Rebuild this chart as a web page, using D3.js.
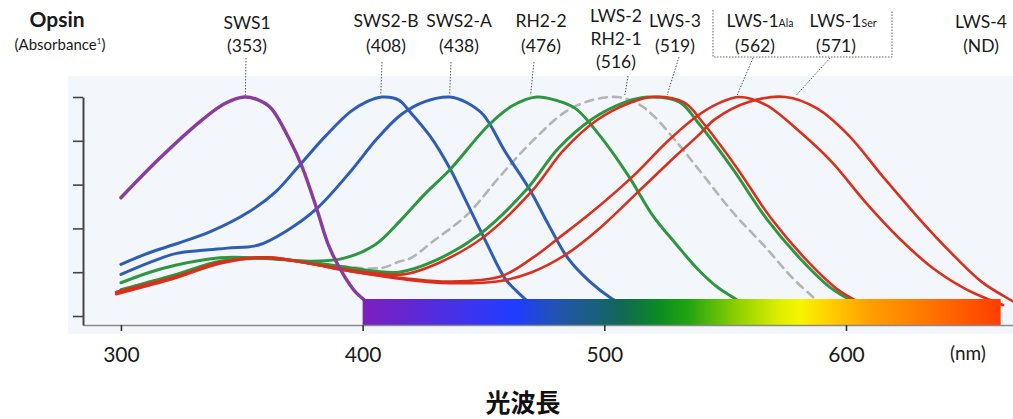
<!DOCTYPE html>
<html>
<head>
<meta charset="utf-8">
<script src="https://cdn.jsdelivr.net/npm/d3@7"></script>
<style>
  body { margin: 0; background: #fff; }
  svg { display: block; font-family: Lato, "Noto Sans", sans-serif; }
</style>
</head>
<body>
<svg id="chart"></svg>
<script>
// absorbance curves, [wavelength nm, relative absorbance]
const sws1 = [[300,0.54],[316,0.72],[333,0.89],[343,0.97],[351,1.0],[356,0.99],[362,0.95],[370,0.80],[375,0.68],[381,0.49],[386,0.32],[392,0.19],[397,0.11],[400,0.08],[403,0.05]];
const sws2b = [[300,0.236],[312,0.29],[323,0.33],[337,0.385],[353,0.476],[364,0.567],[374,0.69],[385,0.826],[395,0.933],[402,0.98],[408,1.0],[415,0.986],[419,0.94],[428,0.82],[436,0.676],[443,0.52],[451,0.34],[459,0.17],[465,0.10],[469,0.06]];
const sws2a = [[300,0.19],[312,0.245],[323,0.286],[334,0.30],[344,0.31],[357,0.324],[368,0.385],[381,0.49],[395,0.66],[406,0.81],[416,0.92],[426,0.98],[436,1.0],[443,0.975],[450,0.918],[459,0.75],[469,0.58],[477,0.415],[485,0.263],[494,0.157],[503,0.08],[508,0.05]];
const rh22 = [[300,0.152],[312,0.2],[323,0.233],[341,0.266],[360,0.263],[378,0.25],[392,0.263],[405,0.324],[416,0.44],[426,0.56],[436,0.667],[452,0.87],[462,0.96],[472,1.0],[480,0.985],[488,0.948],[498,0.826],[510,0.64],[520,0.46],[530,0.324],[539,0.21],[547,0.13],[554,0.08],[558,0.05]];
const lws2 = [[300,0.12],[323,0.19],[341,0.245],[360,0.262],[378,0.245],[392,0.225],[408,0.22],[415,0.248],[420,0.265],[429,0.34],[443,0.46],[457,0.64],[470,0.796],[484,0.933],[495,0.986],[505,1.0],[513,0.975],[520,0.918],[531,0.78],[539,0.67],[553,0.476],[567,0.31],[578,0.172],[586,0.09],[590,0.05]];
const rh21 = [[300,0.12],[323,0.19],[341,0.25],[360,0.265],[378,0.245],[392,0.225],[405,0.205],[415,0.20],[429,0.248],[448,0.37],[468,0.58],[481,0.766],[495,0.90],[509,0.978],[518,1.0],[531,0.978],[539,0.88],[553,0.674],[567,0.446],[581,0.263],[594,0.126],[604,0.06]];
const lws3 = [[298,0.11],[323,0.18],[341,0.245],[360,0.268],[378,0.24],[392,0.215],[405,0.195],[417,0.19],[431,0.24],[450,0.36],[470,0.57],[483,0.755],[497,0.895],[511,0.975],[520,1.0],[533,0.975],[541,0.88],[555,0.674],[569,0.446],[583,0.263],[596,0.126],[606,0.06]];
const lws1Ala = [[298,0.10],[323,0.175],[341,0.24],[360,0.268],[378,0.24],[392,0.21],[406,0.187],[419,0.17],[436,0.157],[457,0.18],[470,0.263],[481,0.355],[495,0.476],[512,0.64],[526,0.796],[538,0.91],[547,0.97],[556,1.0],[567,0.963],[581,0.84],[594,0.705],[608,0.52],[622,0.355],[636,0.218],[649,0.126],[658,0.08],[665,0.05]];
const lws1Ser = [[300,0.115],[323,0.18],[341,0.245],[360,0.265],[378,0.24],[392,0.21],[406,0.185],[419,0.165],[436,0.15],[457,0.16],[470,0.20],[484,0.28],[498,0.40],[514,0.567],[530,0.735],[539,0.826],[546,0.90],[560,0.978],[575,1.0],[588,0.948],[601,0.826],[615,0.64],[629,0.46],[643,0.294],[656,0.157],[667,0.08],[672,0.05]];

const xTicks = [300, 400, 500, 600];
const yTicks = [0, 0.2, 0.4, 0.6, 0.8, 1];

// visible light bar: [nm, colour]
const spectrum = [[400,"#7d1fbf"],[425,"#5a2ad8"],[445,"#3a34f0"],[463,"#1f3dff"],[480,"#2253b0"],[495,"#1a5f80"],[508,"#106a50"],[522,"#0b8a22"],[535,"#22a510"],[555,"#8fd000"],[572,"#dcee00"],[581,"#f6f500"],[593,"#ffd000"],[610,"#ff9f00"],[635,"#ff7300"],[664,"#ff3d00"]];

const width = 1013, height = 419;

const svg = d3.select("#chart").attr("width", width).attr("height", height);

let x = d3.scaleLinear().domain([284.3, 669.1]).range([83, 1013]);
let y = d3.scaleLinear().domain([-0.041, 1]).range([325, 97]);

// light panel behind the plot
svg.append("rect")
  .attr("x", 68).attr("y", 76).attr("width", width - 68).attr("height", 258)
  .attr("fill", "#f3f6fa");

const series = [
  {data: lws2, color: "#b4b4b4", dash: "8,6", w: 2.6},
  {data: sws2b, color: "#2f5db5", w: 3},
  {data: sws2a, color: "#2f5db5", w: 3},
  {data: rh22, color: "#2e9640", w: 3},
  {data: rh21, color: "#2e9640", w: 3},
  {data: lws3, color: "#d8301d", w: 2.6},
  {data: lws1Ala, color: "#d8301d", w: 2.6},
  {data: lws1Ser, color: "#d8301d", w: 2.6},
  {data: sws1, color: "#8a3c9c", w: 3.4}
];

let line = d3.line()
  .x(d => x(d[0]))
  .y(d => y(d[1]))
  .curve(d3.curveCatmullRom.alpha(0.5));

svg.append("g")
  .attr("fill", "none")
  .attr("stroke-linecap", "round")
  .selectAll("path")
  .data(series)
  .join("path")
    .attr("d", d => line(d.data))
    .attr("stroke", d => d.color)
    .attr("stroke-width", d => d.w)
    .attr("stroke-dasharray", d => d.dash || null);

// spectrum bar
const grad = svg.append("defs").append("linearGradient")
  .attr("id", "spec")
  .attr("gradientUnits", "userSpaceOnUse")
  .attr("x1", x(400)).attr("x2", x(664)).attr("y1", 0).attr("y2", 0);
grad.selectAll("stop")
  .data(spectrum)
  .join("stop")
    .attr("offset", d => (d[0] - 400) / (664 - 400))
    .attr("stop-color", d => d[1]);

svg.append("rect")
  .attr("x", x(400)).attr("y", 299)
  .attr("width", x(664) - x(400)).attr("height", y(-0.041) - 299)
  .attr("fill", "url(#spec)");

// axes
let xAxis = g => g
  .attr("transform", `translate(0,${y(-0.041)})`)
  .call(d3.axisBottom(x).tickValues(xTicks).tickSize(6).tickSizeOuter(0).tickPadding(16))
  .call(g => g.select(".domain").attr("stroke", "#8a8a8a").attr("stroke-width", 1.6))
  .call(g => g.selectAll(".tick line").attr("stroke", "#333").attr("stroke-width", 1.6))
  .call(g => g.selectAll(".tick text")
    .attr("fill", "#1a1a1a")
    .attr("font-size", 21)
    .attr("font-family", "Lato, 'Noto Sans', sans-serif"));

let yAxis = g => g
  .attr("transform", `translate(${x(284.3)},0)`)
  .call(d3.axisLeft(y).tickValues(yTicks).tickSize(10).tickSizeOuter(0).tickFormat(""))
  .call(g => g.select(".domain").attr("stroke", "#444").attr("stroke-width", 2))
  .call(g => g.selectAll(".tick line").attr("stroke", "#444").attr("stroke-width", 1.6));

svg.append("g").call(xAxis);
svg.append("g").call(yAxis);

svg.append("text")
  .attr("x", 968).attr("y", 360)
  .attr("text-anchor", "middle")
  .attr("font-size", 19)
  .attr("fill", "#1a1a1a")
  .text("(nm)");

svg.append("text")
  .attr("x", 523).attr("y", 412)
  .attr("text-anchor", "middle")
  .attr("font-size", 25)
  .attr("font-weight", "bold")
  .attr("font-family", "'Noto Sans CJK JP', sans-serif")
  .attr("fill", "#111")
  .text("光波長");

// y title
svg.append("text")
  .attr("x", 57).attr("y", 27)
  .attr("text-anchor", "middle")
  .attr("font-size", 21)
  .attr("font-weight", "bold")
  .attr("fill", "#1a1a1a")
  .text("Opsin");

const absT = svg.append("text")
  .attr("x", 60).attr("y", 50)
  .attr("text-anchor", "middle")
  .attr("font-size", 15)
  .attr("fill", "#1a1a1a");
absT.append("tspan").text("(Absorbance");
absT.append("tspan").attr("font-size", 8).attr("dy", -6).text("1");
absT.append("tspan").attr("dy", 6).text(")");

// opsin labels with leader lines
const labels = [
  {lines: [["SWS1"], ["(353)"]], cx: [247, 247], base: [29, 52], from: [246, 58], tip: 351.5},
  {lines: [["SWS2-B"], ["(408)"]], cx: [386, 386], base: [27, 52], from: [382, 62], tip: 407.5},
  {lines: [["SWS2-A"], ["(438)"]], cx: [459, 459], base: [27, 52], from: [451, 62], tip: 436},
  {lines: [["RH2-2"], ["(476)"]], cx: [541, 541], base: [27, 52], from: [534, 62], tip: 469.5},
  {lines: [["LWS-2"], ["RH2-1"], ["(516)"]], cx: [616, 616, 616], base: [22, 45, 68], from: [628, 76], tip: 508.5},
  {lines: [["LWS-3"], ["(519)"]], cx: [675, 675], base: [27, 52], from: [679, 57], tip: 526},
  {lines: [["LWS-1", "Ala"], ["(562)"]], cx: [760, 755], base: [27, 52], from: [753, 58], tip: 555},
  {lines: [["LWS-1", "Ser"], ["(571)"]], cx: [843, 836], base: [27, 52], from: [830, 58], tip: 579.5},
  {lines: [["LWS-4"], ["(ND)"]], cx: [981, 981], base: [28, 52]}
];

const lab = svg.append("g")
  .attr("font-size", 17.5)
  .attr("fill", "#1a1a1a")
  .attr("text-anchor", "middle");

labels.forEach(l => {
  l.lines.forEach((ln, i) => {
    const t = lab.append("text")
      .attr("x", l.cx[i])
      .attr("y", l.base[i]);
    t.append("tspan").text(ln[0]);
    if (ln[1]) t.append("tspan").attr("font-size", 10.5).text(ln[1]);
  });
  if (l.tip) {
    svg.append("line")
      .attr("x1", l.from[0]).attr("y1", l.from[1])
      .attr("x2", x(l.tip)).attr("y2", y(1) - 2)
      .attr("stroke", "#555")
      .attr("stroke-width", 1)
      .attr("stroke-dasharray", "1.5,1.5");
  }
});

// dotted bracket around the LWS-1 pair
svg.append("path")
  .attr("d", "M713,10V57H892V10")
  .attr("fill", "none")
  .attr("stroke", "#666")
  .attr("stroke-width", 1)
  .attr("stroke-dasharray", "1.5,1.5");
</script>
</body>
</html>
